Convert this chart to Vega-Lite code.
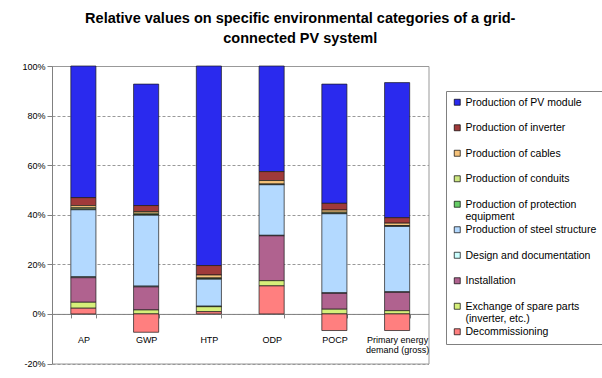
{
  "$schema": "https://vega.github.io/schema/vega-lite/v6.json",
  "width": 376.5,
  "height": 297.5,
  "autosize": {"type": "none"},
  "padding": {"left": 52, "top": 66, "right": 173.5, "bottom": 14.5},
  "background": "white",
  "title": {
    "text": ["Relative values on specific environmental categories of a grid-", "connected PV systeml"],
    "font": "Liberation Sans", "fontSize": 14.5, "fontWeight": "bold", "lineHeight": 19.5,
    "anchor": "middle", "frame": "group", "dx": 60, "offset": 16, "color": "#000"
  },
  "data": {"values": [
    {"c": "AP", "k": "Production of PV module", "v": 53.1, "o": 9},
    {"c": "AP", "k": "Production of inverter", "v": 3.2, "o": 8},
    {"c": "AP", "k": "Production of cables", "v": 0.9, "o": 7},
    {"c": "AP", "k": "Production of conduits", "v": 0.5, "o": 6},
    {"c": "AP", "k": "Production of protection equipment", "v": 0.3, "o": 5},
    {"c": "AP", "k": "Production of steel structure", "v": 27.0, "o": 4},
    {"c": "AP", "k": "Design and documentation", "v": 0.4, "o": 3},
    {"c": "AP", "k": "Installation", "v": 9.9, "o": 2},
    {"c": "AP", "k": "Exchange of spare parts (inverter, etc.)", "v": 2.4, "o": 1},
    {"c": "AP", "k": "Decommissioning", "v": 2.3, "o": 0},
    {"c": "GWP", "k": "Production of PV module", "v": 49.0, "o": 9},
    {"c": "GWP", "k": "Production of inverter", "v": 2.4, "o": 8},
    {"c": "GWP", "k": "Production of cables", "v": 0.7, "o": 7},
    {"c": "GWP", "k": "Production of conduits", "v": 0.5, "o": 6},
    {"c": "GWP", "k": "Production of protection equipment", "v": 0.3, "o": 5},
    {"c": "GWP", "k": "Production of steel structure", "v": 28.6, "o": 4},
    {"c": "GWP", "k": "Design and documentation", "v": 0.3, "o": 3},
    {"c": "GWP", "k": "Installation", "v": 9.3, "o": 2},
    {"c": "GWP", "k": "Exchange of spare parts (inverter, etc.)", "v": 1.6, "o": 1},
    {"c": "GWP", "k": "Decommissioning", "v": -7.4, "o": 0},
    {"c": "HTP", "k": "Production of PV module", "v": 80.5, "o": 9},
    {"c": "HTP", "k": "Production of inverter", "v": 3.8, "o": 8},
    {"c": "HTP", "k": "Production of cables", "v": 1.2, "o": 7},
    {"c": "HTP", "k": "Production of conduits", "v": 0.3, "o": 6},
    {"c": "HTP", "k": "Production of protection equipment", "v": 0.2, "o": 5},
    {"c": "HTP", "k": "Production of steel structure", "v": 10.9, "o": 4},
    {"c": "HTP", "k": "Design and documentation", "v": 0.1, "o": 3},
    {"c": "HTP", "k": "Installation", "v": 0.1, "o": 2},
    {"c": "HTP", "k": "Exchange of spare parts (inverter, etc.)", "v": 2.0, "o": 1},
    {"c": "HTP", "k": "Decommissioning", "v": 0.9, "o": 0},
    {"c": "ODP", "k": "Production of PV module", "v": 42.6, "o": 9},
    {"c": "ODP", "k": "Production of inverter", "v": 3.6, "o": 8},
    {"c": "ODP", "k": "Production of cables", "v": 1.4, "o": 7},
    {"c": "ODP", "k": "Production of conduits", "v": 0.2, "o": 6},
    {"c": "ODP", "k": "Production of protection equipment", "v": 0.1, "o": 5},
    {"c": "ODP", "k": "Production of steel structure", "v": 20.4, "o": 4},
    {"c": "ODP", "k": "Design and documentation", "v": 0.2, "o": 3},
    {"c": "ODP", "k": "Installation", "v": 18.1, "o": 2},
    {"c": "ODP", "k": "Exchange of spare parts (inverter, etc.)", "v": 2.1, "o": 1},
    {"c": "ODP", "k": "Decommissioning", "v": 11.3, "o": 0},
    {"c": "POCP", "k": "Production of PV module", "v": 48.1, "o": 9},
    {"c": "POCP", "k": "Production of inverter", "v": 2.7, "o": 8},
    {"c": "POCP", "k": "Production of cables", "v": 0.9, "o": 7},
    {"c": "POCP", "k": "Production of conduits", "v": 0.4, "o": 6},
    {"c": "POCP", "k": "Production of protection equipment", "v": 0.2, "o": 5},
    {"c": "POCP", "k": "Production of steel structure", "v": 31.9, "o": 4},
    {"c": "POCP", "k": "Design and documentation", "v": 0.2, "o": 3},
    {"c": "POCP", "k": "Installation", "v": 6.4, "o": 2},
    {"c": "POCP", "k": "Exchange of spare parts (inverter, etc.)", "v": 1.9, "o": 1},
    {"c": "POCP", "k": "Decommissioning", "v": -6.7, "o": 0},
    {"c": "Primary energy demand (gross)", "k": "Production of PV module", "v": 54.5, "o": 9},
    {"c": "Primary energy demand (gross)", "k": "Production of inverter", "v": 2.2, "o": 8},
    {"c": "Primary energy demand (gross)", "k": "Production of cables", "v": 1.0, "o": 7},
    {"c": "Primary energy demand (gross)", "k": "Production of conduits", "v": 0.2, "o": 6},
    {"c": "Primary energy demand (gross)", "k": "Production of protection equipment", "v": 0.1, "o": 5},
    {"c": "Primary energy demand (gross)", "k": "Production of steel structure", "v": 26.4, "o": 4},
    {"c": "Primary energy demand (gross)", "k": "Design and documentation", "v": 0.2, "o": 3},
    {"c": "Primary energy demand (gross)", "k": "Installation", "v": 7.4, "o": 2},
    {"c": "Primary energy demand (gross)", "k": "Exchange of spare parts (inverter, etc.)", "v": 1.3, "o": 1},
    {"c": "Primary energy demand (gross)", "k": "Decommissioning", "v": -6.7, "o": 0}
  ]},
  "mark": {"type": "bar", "stroke": "#1a1a1a", "strokeWidth": 0.7},
  "encoding": {
    "x": {
      "field": "c", "type": "nominal",
      "sort": ["AP", "GWP", "HTP", "ODP", "POCP", "Primary energy demand (gross)"],
      "scale": {"paddingInner": 0.6, "paddingOuter": 0.3},
      "axis": {
        "title": null, "labelAngle": 0, "offset": -49.58,
        "domainColor": "#808080", "tickColor": "#808080", "tickSize": 4, "tickBand": "extent",
        "labelPadding": 18, "labelFontSize": 9, "labelFont": "Liberation Sans", "labelColor": "#000",
        "labelLineHeight": 10, "labelBaseline": "top", "grid": false,
        "labelExpr": "datum.label == 'Primary energy demand (gross)' ? ['Primary energy', 'demand (gross)'] : datum.label"
      }
    },
    "y": {
      "field": "v", "type": "quantitative", "stack": "zero",
      "scale": {"domain": [-20, 100], "nice": false},
      "axis": {
        "title": null, "values": [-20, 0, 20, 40, 60, 80, 100],
        "labelExpr": "datum.value + '%'",
        "domainColor": "#808080", "tickColor": "#808080", "tickSize": 5, "labelPadding": 2,
        "labelFontSize": 9, "labelFont": "Liberation Sans", "labelColor": "#000",
        "gridColor": "#999999", "gridDash": [3, 2], "gridWidth": 1
      }
    },
    "color": {
      "field": "k", "type": "nominal",
      "scale": {
        "domain": ["Production of PV module", "Production of inverter", "Production of cables", "Production of conduits", "Production of protection equipment", "Production of steel structure", "Design and documentation", "Installation", "Exchange of spare parts (inverter, etc.)", "Decommissioning"],
        "range": ["#2A2AEE", "#A03A3A", "#F5C27A", "#CCE680", "#66CC66", "#B3D9FF", "#CCFFFF", "#B0628F", "#D6F07A", "#FF7F7F"]
      },
      "legend": {
        "title": null, "orient": "none", "legendX": 394, "legendY": 25, "direction": "vertical",
        "padding": 6, "strokeColor": "#808080", "fillColor": "#ffffff",
        "symbolType": "square", "symbolSize": 36, "symbolStrokeColor": "#000", "symbolStrokeWidth": 0.7,
        "labelFontSize": 10.5, "labelFont": "Liberation Sans", "labelColor": "#000", "labelLimit": 200,
        "labelBaseline": "alphabetic", "gridAlign": "all",
        "rowPadding": 1.5, "labelOffset": 3,
        "encode": {"labels": {"update": {"dy": {"value": 3.5}}}},
        "labelExpr": "datum.label == 'Production of protection equipment' ? ['Production of protection', 'equipment'] : datum.label == 'Exchange of spare parts (inverter, etc.)' ? ['Exchange of spare parts', '(inverter, etc.)'] : datum.label"
      }
    },
    "order": {"field": "o", "type": "quantitative", "sort": "ascending"}
  },
  "config": {
    "view": {"stroke": "#999999"},
    "font": "Liberation Sans"
  }
}
